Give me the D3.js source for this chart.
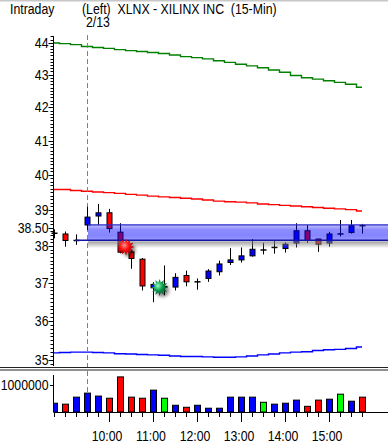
<!DOCTYPE html>
<html><head><meta charset="utf-8">
<script src="https://cdn.jsdelivr.net/npm/d3@7"></script>
<style>
html,body{margin:0;padding:0;background:#fff;overflow:hidden}
svg{display:block}
text{font-family:"Liberation Sans",Arial,sans-serif;font-size:15px;fill:#000}
</style></head><body>
<svg id="c" width="388" height="443"></svg>
<script>
// ---- data ----
const times = ["15:15","15:30","15:45","9:30","9:45","10:00","10:15","10:30","10:45","11:00","11:15","11:30","11:45","12:00","12:15","12:30","12:45","13:00","13:15","13:30","13:45","14:00","14:15","14:30","14:45","15:00","15:15","15:30","15:45"];
const opens  = [38.35,38.33,38.15,38.58,38.83,38.92,38.38,37.84,37.64,36.87,36.90,36.89,37.20,37.03,37.12,37.30,37.55,37.62,37.73,37.89,37.96,37.93,38.08,38.42,38.19,38.08,38.33,38.37,38.56];
const closes = [38.35,38.15,38.15,38.80,38.92,38.48,37.83,37.66,36.92,36.96,36.90,37.15,37.03,37.03,37.32,37.51,37.62,37.73,37.91,37.89,37.96,38.05,38.42,38.15,38.05,38.33,38.33,38.56,38.56];
const highs  = [38.46,38.40,38.32,39.09,39.17,39.03,38.63,37.89,37.67,37.02,37.47,37.26,37.33,37.12,37.37,37.60,37.94,37.96,38.19,38.09,38.15,38.10,38.63,38.58,38.20,38.39,38.72,38.72,38.61];
const lows   = [38.21,37.98,38.03,38.44,38.58,38.37,37.80,37.38,36.80,36.49,36.67,36.80,36.91,36.82,37.03,37.20,37.48,37.55,37.71,37.77,37.79,37.82,37.96,38.08,37.84,37.98,38.26,38.34,38.34];
const volumes = [325000,290000,550000,700000,590000,510000,1300000,550000,510000,810000,510000,250000,175000,250000,140000,140000,550000,550000,550000,360000,290000,325000,440000,210000,440000,475000,660000,400000,550000];
const volDir = ["u","d","u","u","u","d","d","d","d","u","n","u","d","u","u","u","u","u","u","n","u","u","u","d","d","u","n","u","d"];
const maUpper = [43.99,43.97,43.94,43.88,43.85,43.82,43.78,43.75,43.72,43.69,43.66,43.61,43.56,43.53,43.49,43.43,43.38,43.32,43.27,43.21,43.14,43.07,42.97,42.90,42.86,42.81,42.76,42.70,42.61];
const maMid   = [39.58,39.58,39.55,39.53,39.51,39.49,39.47,39.44,39.42,39.39,39.37,39.35,39.33,39.31,39.28,39.25,39.23,39.22,39.20,39.17,39.15,39.13,39.11,39.09,39.07,39.05,39.03,39.01,38.97];
const maLower = [35.18,35.19,35.20,35.20,35.19,35.18,35.16,35.15,35.14,35.13,35.12,35.10,35.09,35.09,35.08,35.07,35.07,35.08,35.10,35.13,35.15,35.18,35.20,35.21,35.24,35.26,35.27,35.29,35.33];
const priceTicks = [35,36,37,38,39,40,41,42,43,44,38.5];
const volTicks = [1000000];
const bandHigh = 38.58, bandLow = 38.155, bandStart = 3, prevCloseStart = 2;
const dayStart = 3;
const signalIndex = [6.55, 9.6];
const signalPrice = [37.97, 36.88];
const signalType = ["sell","buy"];
const titleLeft = "Intraday";
const titleMain = "(Left)  XLNX - XILINX INC  (15-Min)";
const titleDate = "2/13";

// ---- scales ----
const svg = d3.select("#c");
const x = d3.scaleLinear().domain([0, times.length-1]).range([54, 362]);
const y = d3.scaleLog().domain([35, 44]).range([360, 42.7]);
const yv = d3.scaleLinear().domain([0, 1000000]).range([412, 385]);
const axX = 53.5, W = 388;

function txt(tx, ty, s, anchor){
  return svg.append("text").attr("transform",`translate(${tx},${ty}) scale(0.82,1)`)
    .attr("text-anchor",anchor||"start").attr("xml:space","preserve").style("white-space","pre").text(s);
}

const defs = svg.append("defs");
const bg = defs.append("linearGradient").attr("id","bandG").attr("x1",0).attr("y1",0).attr("x2",0).attr("y2",1);
[[0,0.25],[0.3,0.45],[0.7,0.48],[1,0.40]].forEach(s=>bg.append("stop").attr("offset",s[0]).attr("stop-color","#0000ff").attr("stop-opacity",s[1]));
const sg = defs.append("linearGradient").attr("id","shadG").attr("x1",0).attr("y1",0).attr("x2",0).attr("y2",1);
sg.append("stop").attr("offset",0).attr("stop-color","#808080").attr("stop-opacity",0.75);
sg.append("stop").attr("offset",1).attr("stop-color","#808080").attr("stop-opacity",0);
const rg = defs.append("radialGradient").attr("id","sellG").attr("cx","40%").attr("cy","40%").attr("r","60%");
rg.append("stop").attr("offset",0).attr("stop-color","#ff9090");
rg.append("stop").attr("offset",0.45).attr("stop-color","#ff1010");
rg.append("stop").attr("offset",1).attr("stop-color","#900000");
const gg = defs.append("radialGradient").attr("id","buyG").attr("cx","40%").attr("cy","40%").attr("r","60%");
gg.append("stop").attr("offset",0).attr("stop-color","#90ffc0");
gg.append("stop").attr("offset",0.45).attr("stop-color","#10a050");
gg.append("stop").attr("offset",1).attr("stop-color","#004020");
defs.append("filter").attr("id","blur").append("feGaussianBlur").attr("stdDeviation",1.6);
defs.append("clipPath").attr("id","volClip").append("rect").attr("x",axX).attr("y",370).attr("width",W-axX).attr("height",43);

// top strip
svg.append("rect").attr("x",0).attr("y",0).attr("width",W).attr("height",1.5).attr("fill","#c8c8c8");

// header
txt(10, 14, titleLeft);
txt(82, 14, titleMain);
txt(86, 27, titleDate);

// moving average lines
const line = d3.line().x((d,i)=>x(i)).y(d=>y(d)).curve(d3.curveStep);
[[maUpper,"#008000"],[maMid,"#ff0000"],[maLower,"#0000ff"]].forEach(([arr,c])=>{
  svg.append("path").attr("d",line(arr)).attr("fill","none").attr("stroke",c).attr("stroke-width",1.4);
});

// day separator
svg.append("line").attr("x1",x(dayStart)+0.5).attr("x2",x(dayStart)+0.5).attr("y1",35).attr("y2",412)
  .attr("stroke","#808080").attr("stroke-width",1).attr("stroke-dasharray","5,3");

// candles
const cg = svg.append("g");
times.forEach((t,i)=>{
  const cx = Math.round(x(i))+0.5;
  cg.append("line").attr("x1",cx).attr("x2",cx).attr("y1",y(highs[i])).attr("y2",y(lows[i])).attr("stroke","#000").attr("stroke-width",1);
  const o = opens[i], c = closes[i];
  if (Math.abs(o-c) < 0.02) {
    cg.append("line").attr("x1",cx-3).attr("x2",cx+3).attr("y1",y(c)).attr("y2",y(c)).attr("stroke","#000").attr("stroke-width",1.5);
  } else {
    const top = y(Math.max(o,c)), bot = y(Math.min(o,c));
    cg.append("rect").attr("x",cx-2.5).attr("y",top).attr("width",5).attr("height",bot-top)
      .attr("fill", c>o ? "#0000ff" : "#ff0000").attr("stroke","#000").attr("stroke-width",1);
  }
});

// band
const bx = x(bandStart)+1;
svg.append("rect").attr("x",bx).attr("y",y(bandLow)+1).attr("width",W-bx).attr("height",7).attr("fill","url(#shadG)");
svg.append("rect").attr("x",bx).attr("y",y(bandHigh)).attr("width",W-bx).attr("height",y(bandLow)-y(bandHigh)).attr("fill","url(#bandG)");
svg.append("line").attr("x1",bx).attr("x2",W).attr("y1",y(bandHigh)).attr("y2",y(bandHigh)).attr("stroke","#2828c8").attr("stroke-width",1.2);
svg.append("line").attr("x1",x(prevCloseStart)-1).attr("x2",W).attr("y1",y(bandLow)).attr("y2",y(bandLow)).attr("stroke","#1414a8").attr("stroke-width",1.5);

// signals
function starPath(r1,r2,n){
  const pts=[];
  for(let k=0;k<2*n;k++){const a=Math.PI*k/n - Math.PI/2; const r=k%2?r2:r1; pts.push([r*Math.cos(a), r*Math.sin(a)]);}
  return "M"+pts.map(p=>p[0].toFixed(2)+","+p[1].toFixed(2)).join("L")+"Z";
}
signalIndex.forEach((si,k)=>{
  const sx = x(si), sy = y(signalPrice[k]);
  svg.append("path").attr("d",starPath(8.5,5,12)).attr("transform",`translate(${sx+3},${sy+3})`).attr("fill","#000").attr("opacity",0.45).attr("filter","url(#blur)");
  svg.append("path").attr("d",starPath(8.5,5,12)).attr("transform",`translate(${sx},${sy})`).attr("fill", signalType[k]==="sell" ? "url(#sellG)" : "url(#buyG)");
});

// price axis
svg.append("line").attr("x1",axX).attr("x2",axX).attr("y1",36).attr("y2",366).attr("stroke","#000");
const minor = d3.range(349, 443).map(v=>v/10).filter(v=>Math.abs(v-Math.round(v))>0.01);
minor.forEach(v=>svg.append("line").attr("x1",50.5).attr("x2",axX).attr("y1",Math.round(y(v))+0.5).attr("y2",Math.round(y(v))+0.5).attr("stroke","#000"));
priceTicks.forEach(v=>{
  const ty = Math.round(y(v))+0.5;
  svg.append("line").attr("x1",48.5).attr("x2",axX).attr("y1",ty).attr("y2",ty).attr("stroke","#000");
  txt(48.5, ty+4.3, Number.isInteger(v)? String(v) : v.toFixed(2), "end");
});

// panel separator
svg.append("line").attr("x1",0).attr("x2",W).attr("y1",367.5).attr("y2",367.5).attr("stroke","#222");
svg.append("line").attr("x1",0).attr("x2",W).attr("y1",370).attr("y2",370).attr("stroke","#222");

// volume
const vg = svg.append("g").attr("clip-path","url(#volClip)");
const vcol = {u:"#0000ff", d:"#ff0000", n:"#00ff00"};
volumes.forEach((v,i)=>{
  const cx = Math.round(x(i))+0.5;
  vg.append("rect").attr("x",cx-3).attr("y",yv(v)).attr("width",6).attr("height",yv(0)-yv(v))
    .attr("fill",vcol[volDir[i]]).attr("stroke","#000").attr("stroke-width",1);
});
svg.append("line").attr("x1",axX).attr("x2",axX).attr("y1",375).attr("y2",412).attr("stroke","#000");
svg.append("line").attr("x1",axX).attr("x2",W).attr("y1",412.5).attr("y2",412.5).attr("stroke","#000");
volTicks.forEach(v=>{
  const ty = Math.round(yv(v))+0.5;
  svg.append("line").attr("x1",50).attr("x2",axX).attr("y1",ty).attr("y2",ty).attr("stroke","#000");
  txt(48.5, ty+4.3, String(v), "end");
});

// time axis
times.forEach((t,i)=>{
  const cx = Math.round(x(i))+0.5;
  const hour = t.endsWith(":00");
  svg.append("line").attr("x1",cx).attr("x2",cx).attr("y1",412.5).attr("y2",hour?422:417).attr("stroke","#000");
  if (hour) txt(cx-2.5, 440.5, t, "middle");
});
</script></body></html>
